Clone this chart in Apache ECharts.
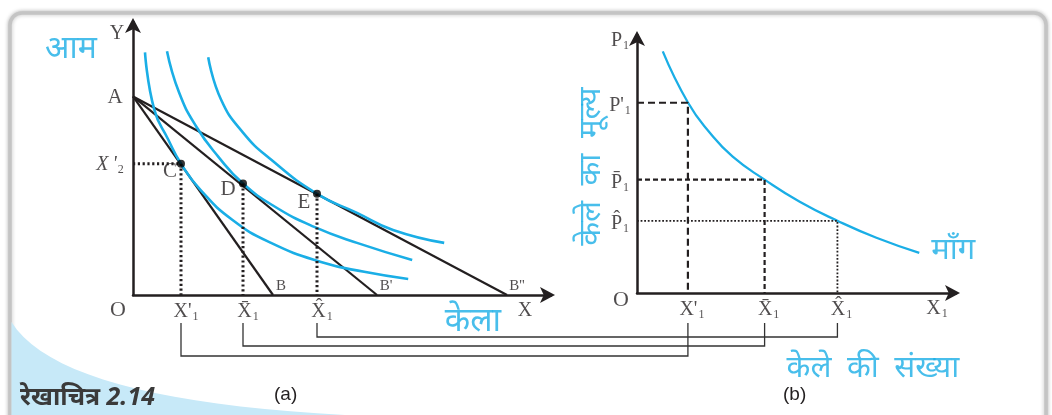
<!DOCTYPE html>
<html>
<head>
<meta charset="utf-8">
<script src="https://cdn.jsdelivr.net/npm/echarts@6/dist/echarts.min.js"></script>
<style>
  html, body { margin: 0; padding: 0; background: #fff; }
  #main { width: 1052px; height: 415px; }
</style>
</head>
<body>
<div id="main"></div>
<script>
// panel (a): mango / banana, budget lines from A and indifference curves
const interceptA = 7.2
const budgetEnds = [3.5, 6.1, 9.35]
const budgetNames = ['B', "B'", "B''"]
const icLow = [[0.3, 8.8], [0.53, 6.73], [0.88, 5.64], [1.2, 4.76], [1.68, 3.82], [2.48, 2.73], [3.45, 1.89], [4.7, 1.2], [5.78, 0.84], [6.88, 0.58]]
const icMid = [[0.85, 8.84], [1.15, 7.35], [1.58, 6.11], [2.13, 5.02], [2.75, 4.04], [3.55, 3.2], [4.53, 2.47], [5.6, 1.89], [6.98, 1.27]]
const icHigh = [[1.88, 8.62], [2.2, 7.09], [2.75, 5.89], [3.45, 4.91], [4.6, 3.67], [5.6, 2.98], [6.5, 2.36], [7.78, 1.89]]
const tangency = [[1.2, 4.76], [2.75, 4.04], [4.6, 3.67]]
const tangencyNames = ['C', 'D', 'E']

// panel (b): demand curve for bananas
const demand = [[0.8, 9.27], [1.58, 7.31], [2.26, 6.15], [2.97, 5.23], [3.96, 4.35], [5.05, 3.5], [6.22, 2.77], [7.43, 2.12], [8.76, 1.54]]
const priceQty = [[1.58, 7.3], [3.96, 4.35], [6.22, 2.77]]
const qtyMarks = ["X'", 'X\u0304', 'X\u0302']
const priceMarks = ["P'", 'P\u0304', 'P\u0302']

const BLUE = '#1aaee6'
const INK = '#231f20'
const SERIF = '"Liberation Serif", "DejaVu Serif", serif'
const HINDI = '"Noto Sans", "DejaVu Sans", sans-serif'

const chart = echarts.init(document.getElementById('main'))

const axisStyle = {
  type: 'value',
  min: 0,
  axisLine: { show: true, onZero: false, lineStyle: { color: INK, width: 2.5 }, symbol: ['none', 'arrow'], symbolSize: [12, 15], symbolOffset: [0, 4] },
  axisTick: { show: false },
  axisLabel: { show: false },
  splitLine: { show: false }
}

const rich = {
  v: { fontFamily: SERIF, fontSize: 20, color: INK },
  s: { fontFamily: SERIF, fontSize: 12, color: INK, padding: [10, 0, 0, 1] },
  i: { fontFamily: SERIF, fontSize: 20, color: INK, fontStyle: 'italic' }
}

function txt (value, text, offset, extra) {
  return {
    value: value,
    label: Object.assign({ show: true, position: 'inside', formatter: text, offset: offset, rich: rich,
      fontFamily: SERIF, fontSize: 20, color: INK }, extra || {})
  }
}

function line (data, xi, style) {
  return { type: 'line', xAxisIndex: xi, yAxisIndex: xi, data: data, symbol: 'none', silent: true, lineStyle: style, z: 3 }
}

const series = []

// budget lines
budgetEnds.forEach(b => series.push(line([[0, interceptA], [b, 0]], 0, { color: INK, width: 2.2 })))
// indifference curves
;[icLow, icMid, icHigh].forEach(ic => {
  series.push(Object.assign(line(ic, 0, { color: BLUE, width: 2.6 }), { smooth: 0.5 }))
})
// dotted drops
const dots = { color: INK, width: 3, type: [2.2, 2.6] }
series.push(line([[0, tangency[0][1]], tangency[0], [tangency[0][0], 0]], 0, dots))
series.push(line([tangency[1], [tangency[1][0], 0]], 0, dots))
series.push(line([tangency[2], [tangency[2][0], 0]], 0, dots))
// tangency points
series.push({ type: 'scatter', xAxisIndex: 0, yAxisIndex: 0, data: tangency, symbolSize: 8, itemStyle: { color: '#000' }, z: 5 })

// demand curve
series.push(Object.assign(line(demand, 1, { color: BLUE, width: 2.3 }), { smooth: 0.5 }))
series.push(line([[0, priceQty[0][1]], priceQty[0], [priceQty[0][0], 0]], 1, { color: INK, width: 2.2, type: [7, 4] }))
series.push(line([[0, priceQty[1][1]], priceQty[1], [priceQty[1][0], 0]], 1, { color: INK, width: 2.2, type: [5, 3] }))
series.push(line([[0, priceQty[2][1]], priceQty[2], [priceQty[2][0], 0]], 1, { color: INK, width: 1.8, type: [1.8, 1.8] }))

// text for panel (a)
const labelsA = [
  txt([0, 9.9], 'Y', [-16, 12]),
  txt([10.45, 0], 'X', [-26, 16]),
  txt([0, 0], 'O', [-15, 15], { fontSize: 22 }),
  txt([0, interceptA], 'A', [-18, 1], { fontSize: 21 }),
  txt([0, tangency[0][1]], '{i|X\u2009\'}{s|2}', [-23, 1]),
  txt([0, 9.9], 'आम', [-62, 27], { fontFamily: HINDI, fontSize: 32, color: BLUE }),
  txt([10.45, 0], 'केला', [-78, 27], { fontFamily: HINDI, fontSize: 33, color: BLUE })
]
budgetEnds.forEach((b, i) => labelsA.push(txt([b, 0], budgetNames[i], [8 + i, -9], { fontSize: 15 })))
tangency.forEach((p, i) => labelsA.push(txt(p, tangencyNames[i], [[-11, -15, -13][i], [8, 6, 9][i]], { fontSize: 21 })))
tangency.forEach((p, i) => labelsA.push(txt([p[0], 0], '{v|' + qtyMarks[i] + '}{s|1}', [5, 17])))
series.push({ type: 'scatter', xAxisIndex: 0, yAxisIndex: 0, symbolSize: 0, clip: false, data: labelsA, silent: true, z: 6 })

// text for panel (b)
const labelsB = [
  txt([0, 9.9], '{v|P}{s|1}', [-17, 6], {}),
  txt([9.9, 0], '{v|X}{s|1}', [-19, 16]),
  txt([0, 0], 'O', [-16, 7], { fontSize: 22 }),
  txt(demand[demand.length - 1], 'माँग', [34, -3], { fontFamily: HINDI, fontSize: 31, color: BLUE }),
  txt([0, 4.85], 'केले\u2002का\u2002मूल्य', [0, -46], { fontFamily: HINDI, fontSize: 31, color: BLUE, rotate: 90 }),
  txt([9.9, 0], 'केले\u2002की\u2002संख्या', [-83, 75], { fontFamily: HINDI, fontSize: 31, color: BLUE })
]
priceQty.forEach((p, i) => {
  labelsB.push(txt([0, p[1]], '{v|' + priceMarks[i] + '}{s|1}', [-17, 3]))
  labelsB.push(txt([p[0], 0], '{v|' + qtyMarks[i] + '}{s|1}', [4, 17]))
})
series.push({ type: 'scatter', xAxisIndex: 1, yAxisIndex: 1, symbolSize: 0, clip: false, data: labelsB, silent: true, z: 6 })

// corner swoosh outline (decoration only)
const swoosh = [[11.5, 322]]
for (let t = 0.05; t <= 1.0001; t += 0.05) {
  const u = 1 - t
  swoosh.push([u * u * 11.5 + 2 * u * t * 60 + t * t * 345, u * u * 322 + 2 * u * t * 400 + t * t * 415])
}
swoosh.push([11.5, 415])

chart.setOption({
  animation: false,
  backgroundColor: '#fff',
  grid: [
    { left: 133, top: 22, width: 418, height: 273 },
    { left: 637, top: 35, width: 319, height: 258 }
  ],
  xAxis: [
    Object.assign({}, axisStyle, { gridIndex: 0, max: 10.45 }),
    Object.assign({}, axisStyle, { gridIndex: 1, max: 9.9 })
  ],
  yAxis: [
    Object.assign({}, axisStyle, { gridIndex: 0, max: 9.9 }),
    Object.assign({}, axisStyle, { gridIndex: 1, max: 9.9 })
  ],
  graphic: [
    { id: 'frame', type: 'rect', z: -10, shape: { x: 10, y: 13, width: 1036, height: 430, r: 12 },
      style: { fill: '#fff', stroke: '#c4c4c4', lineWidth: 3.5, shadowBlur: 4, shadowColor: 'rgba(0,0,0,0.25)' } },
    { id: 'swoosh', type: 'polygon', z: -9, shape: { points: swoosh }, style: { fill: '#c7e9f8' } },
    { id: 'caption', type: 'text', left: 20, top: 385, style: { text: 'रेखाचित्र 2.14', font: 'italic bold 25px ' + HINDI, fill: '#3a3a3a' } },
    { id: 'ta', type: 'text', left: 274, top: 385, style: { text: '(a)', font: '19px "Liberation Sans", sans-serif', fill: INK } },
    { id: 'tb', type: 'text', left: 783, top: 385, style: { text: '(b)', font: '19px "Liberation Sans", sans-serif', fill: INK } }
  ],
  series: series
})

// bracket lines joining the quantities of panel (a) with those of panel (b)
const drops = [61, 51, 42]
const links = tangency.map((p, i) => {
  const a = chart.convertToPixel({ gridIndex: 0 }, [p[0], 0])
  const b = chart.convertToPixel({ gridIndex: 1 }, [priceQty[i][0], 0])
  const top = a[1] + 28
  const lvl = a[1] + drops[i]
  return {
    id: 'link' + i, type: 'polyline', z: 2,
    shape: { points: [[a[0], top], [a[0], lvl], [b[0], lvl], [b[0], top]] },
    style: { stroke: '#333', lineWidth: 1.3, fill: null }
  }
})
chart.setOption({ graphic: links })
</script>
</body>
</html>
